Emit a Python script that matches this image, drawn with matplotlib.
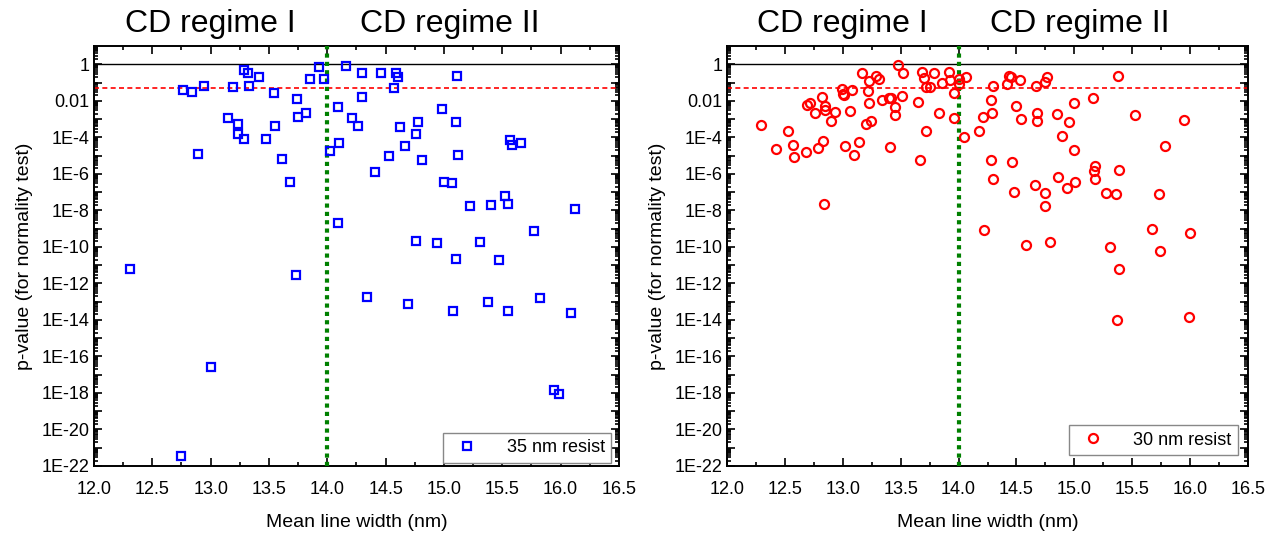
import numpy as np
import matplotlib
matplotlib.use("Agg")
import matplotlib.pyplot as plt
from matplotlib.ticker import FixedLocator, LogLocator, FuncFormatter, MultipleLocator, NullFormatter

plt.rcParams['font.family'] = ['Liberation Sans', 'DejaVu Sans']

# 35 nm resist: mean line width (nm), p-value
x35 = [12.76, 12.84, 12.94, 13.19, 13.29, 13.32, 13.41, 13.33, 13.54, 13.74,
       13.93, 13.85, 13.97, 14.16, 14.30, 14.09, 13.15, 13.23, 13.23, 13.29,
       13.55, 13.47, 13.75, 13.82, 14.21, 14.26, 14.10, 14.02, 12.89, 13.61,
       13.68, 14.46, 14.59, 14.61, 15.11, 14.57, 14.30, 14.98, 14.78, 15.10,
       14.62, 14.76, 14.67, 15.57, 15.58, 15.66, 14.53, 15.12, 14.81, 14.41,
       15.00, 15.07, 15.52, 15.55, 15.22, 15.40, 16.12, 14.09, 15.77, 14.76,
       14.94, 15.31, 15.10, 15.47, 14.34, 14.69, 15.38, 15.82, 15.08, 15.55,
       16.09, 12.31, 13.73, 13.00, 12.75, 15.94, 15.99]
p35 = [3.8e-2, 3.2e-2, 6.5e-2, 6.0e-2, 0.47, 0.34, 0.19, 6.8e-2, 2.8e-2, 1.2e-2,
       0.74, 0.15, 0.16, 0.81, 0.35, 4.3e-3, 1.2e-3, 5.4e-4, 1.6e-4, 7.6e-5,
       4.1e-4, 7.9e-5, 1.3e-3, 2.2e-3, 1.1e-3, 4.3e-4, 4.9e-5, 1.7e-5, 1.2e-5, 6.3e-6,
       3.6e-7, 0.34, 0.34, 0.19, 0.24, 4.9e-2, 1.7e-2, 3.5e-3, 6.8e-4, 6.9e-4,
       3.7e-4, 1.5e-4, 3.4e-5, 7.2e-5, 3.8e-5, 4.6e-5, 9.5e-6, 1.1e-5, 5.6e-6, 1.2e-6,
       3.5e-7, 3.2e-7, 6.0e-8, 2.2e-8, 1.8e-8, 1.9e-8, 1.2e-8, 2.1e-9, 7.6e-10, 2.1e-10,
       1.6e-10, 1.9e-10, 2.1e-11, 1.9e-11, 1.8e-13, 7.6e-14, 1.0e-13, 1.6e-13, 2.9e-14, 2.9e-14,
       2.5e-14, 6.0e-12, 3.0e-12, 2.7e-17, 3.5e-22, 1.5e-18, 8.3e-19]

# 30 nm resist
x30 = [12.29, 12.42, 12.53, 12.57, 12.58, 12.68, 12.69, 12.72, 12.76, 12.79,
       12.82, 12.83, 12.85, 12.85, 12.90, 12.93, 12.99, 13.00, 13.01, 13.02,
       13.06, 13.08, 13.10, 13.14, 13.17, 13.20, 13.22, 13.23, 13.23, 13.24,
       13.29, 13.31, 13.34, 13.40, 13.41, 13.42, 13.45, 13.45, 13.48, 13.51,
       13.52, 13.65, 13.67, 13.68, 13.70, 13.72, 13.72, 13.75, 13.79, 13.83,
       13.86, 13.92, 13.93, 13.96, 13.96, 14.00, 14.00, 14.06, 14.05, 14.18,
       14.21, 14.28, 14.28, 14.29, 14.30, 14.30, 14.44, 14.45, 14.42, 14.53,
       14.67, 14.75, 14.76, 15.38, 14.50, 14.54, 14.68, 14.68, 14.85, 14.95,
       15.00, 15.16, 14.89, 15.00, 15.52, 15.95, 15.78, 14.46, 14.86, 14.66,
       15.01, 14.94, 15.18, 15.17, 15.18, 15.39, 14.48, 14.75, 14.75, 15.27,
       15.36, 15.73, 14.22, 14.58, 14.79, 15.31, 15.67, 15.74, 16.00, 15.39,
       15.37, 15.99, 12.84]
p30 = [4.6e-4, 2.2e-5, 2.3e-4, 3.7e-5, 8.1e-6, 1.5e-5, 6.2e-3, 7.1e-3, 2.2e-3, 2.6e-5,
       1.6e-2, 6.6e-5, 5.5e-3, 3.2e-3, 8.3e-4, 2.3e-3, 4.5e-2, 2.5e-2, 2.2e-2, 3.2e-5,
       2.7e-3, 3.9e-2, 1.1e-5, 5.6e-5, 0.35, 5.4e-4, 3.5e-2, 0.12, 7.4e-3, 7.6e-4,
       0.23, 0.15, 1.1e-2, 1.4e-2, 3.0e-5, 1.5e-2, 4.5e-3, 1.6e-3, 0.89, 1.9e-2,
       0.35, 8.7e-3, 5.4e-6, 0.36, 0.18, 6.0e-2, 2.2e-4, 6.0e-2, 0.35, 2.1e-3,
       9.1e-2, 0.36, 0.13, 2.8e-2, 1.1e-3, 0.15, 8.7e-2, 0.21, 1.0e-4, 2.1e-4,
       1.3e-3, 5.6e-6, 1.1e-2, 2.2e-3, 6.8e-2, 5.5e-7, 0.24, 0.20, 8.7e-2, 0.14,
       6.5e-2, 0.11, 0.21, 0.22, 5.2e-3, 9.8e-4, 2.2e-3, 7.6e-4, 1.9e-3, 6.9e-4,
       7.1e-3, 1.4e-2, 1.2e-4, 1.9e-5, 1.7e-3, 9.3e-4, 3.2e-5, 4.5e-6, 7.1e-7, 2.6e-7,
       3.6e-7, 1.7e-7, 2.8e-6, 1.4e-6, 5.5e-7, 1.7e-6, 9.8e-8, 9.1e-8, 1.8e-8, 8.7e-8,
       7.6e-8, 8.3e-8, 7.9e-10, 1.2e-10, 1.8e-10, 9.5e-11, 9.3e-10, 6.0e-11, 5.6e-10, 5.8e-12,
       9.8e-15, 1.5e-14, 2.1e-8]

cd_split = 14.0
alpha = 0.05
regimes = ["CD regime I", "CD regime II"]


def ylab(v, pos):
    e = int(round(np.log10(v)))
    if e > 0 or e % 2:
        return ""
    if e == 0:
        return "1"
    if e == -2:
        return "0.01"
    return "1E%d" % e


def panel(ax, x, p, marker, color, label, leg_anchor):
    ax.plot(x, p, linestyle="none", marker=marker, markersize=6 if marker == "s" else 6.5,
            markerfacecolor="none", markeredgecolor=color, markeredgewidth=1.6,
            label=label, zorder=4)
    ax.axhline(1, color="black", lw=1.0, zorder=2)
    ax.axhline(alpha, color="red", lw=1.2, ls=(0, (3, 2)), zorder=2)
    ax.axvline(cd_split, color="#008000", lw=3, ls=(0, (1, 1)), zorder=3)
    ax.set_yscale("log")
    ax.set_xlim(12.0, 16.5)
    ax.set_ylim(1e-22, 10)
    ax.xaxis.set_major_locator(MultipleLocator(0.5))
    ax.xaxis.set_minor_locator(MultipleLocator(0.25))
    ax.xaxis.set_major_formatter(FuncFormatter(lambda v, pos: "%.1f" % v))
    ax.yaxis.set_major_locator(FixedLocator(10.0 ** np.arange(-22, 1)))
    ax.yaxis.set_minor_locator(LogLocator(base=10, subs=np.arange(2, 10), numticks=60))
    ax.yaxis.set_major_formatter(FuncFormatter(ylab))
    ax.yaxis.set_minor_formatter(NullFormatter())
    ax.tick_params(which="both", direction="in", top=True, right=True, labelsize=13, width=1.2)
    ax.tick_params(which="major", length=6)
    ax.tick_params(which="minor", length=3)
    ax.tick_params(axis="x", which="major", pad=11)
    for s in ax.spines.values():
        s.set_linewidth(1.4)
    ax.set_xlabel("Mean line width (nm)", fontsize=14, labelpad=11)
    ax.set_ylabel("p-value (for normality test)", fontsize=14, labelpad=6)
    leg = ax.legend(loc="lower right", fontsize=13, fancybox=False, framealpha=1,
                    edgecolor="#888888", handletextpad=1.2, borderpad=0.35,
                    borderaxespad=0.0, bbox_to_anchor=leg_anchor)
    leg.get_frame().set_linewidth(1.0)
    ax.text(13.0, 10 ** 2.2, regimes[0], ha="center", va="center", fontsize=23)
    ax.text(15.05, 10 ** 2.2, regimes[1], ha="center", va="center", fontsize=23)


fig = plt.figure(figsize=(12.74, 5.33), dpi=100)
ax1 = fig.add_axes([94 / 1274, 67 / 533, 525 / 1274, 420 / 533])
ax2 = fig.add_axes([727 / 1274, 67 / 533, 521 / 1274, 420 / 533])

panel(ax1, x35, p35, "s", "#0000ff", "35 nm resist", (0.985, 0.008))
panel(ax2, x30, p30, "o", "#ff0000", "30 nm resist", (0.98, 0.026))

fig.savefig("out.png", dpi=100, facecolor="white")
